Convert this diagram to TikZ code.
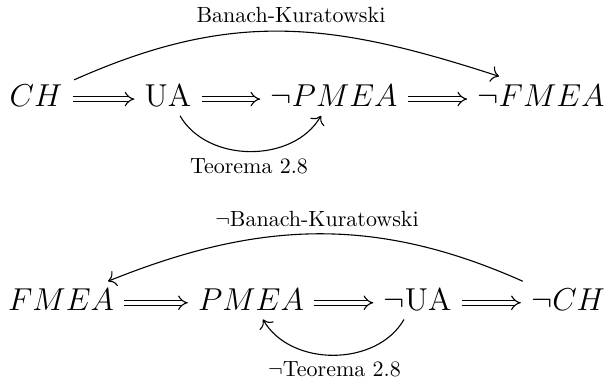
\documentclass[tikz,border=0pt]{standalone}
\usetikzlibrary{arrows.meta}
\begin{document}
\begin{tikzpicture}[x={(0.4545pt,0)}, y={(0,0.4545pt)},
  obj/.style={font=\Large, inner xsep=4.5pt, inner ysep=0pt,
              text height=11pt, text depth=3.8pt, anchor=base},
  lbl/.style={inner sep=0pt, anchor=base},
  imp/.style={double, double distance=1.8pt, line width=0.5pt, -{Implies[scale=1.1]}},
  curved/.style={line width=0.5pt, -{Computer Modern Rightarrow[scale=1.3]}}]
\useasboundingbox (0,0) rectangle (606,383);

% first chain
\node[obj] (ch)    at (36,276)  {$CH$};
\node[obj] (ua)    at (168,276) {$\mathrm{UA}$};
\node[obj] (npmea) at (334,276) {$\neg PMEA$};
\node[obj] (nfmea) at (541,276) {$\neg FMEA$};

\draw[imp] (ch) -- (ua);
\draw[imp] (ua) -- (npmea);
\draw[imp] (npmea) -- (nfmea);

\node[lbl] (bk)  at (291,360.3) {Banach-Kuratowski};
\node[lbl] (t28) at (249,209)   {Teorema 2.8};

\draw[curved] ([shift={(1.5,2.5)}]ch.north east)
  to[out=24, in=162, looseness=1.05] ([shift={(-42,6)}]nfmea.north);
\draw[curved] ([shift={(12,0)}]ua.south)
  to[out=-60, in=-120, looseness=1] ([shift={(-13,0)}]npmea.south);

% second chain
\node[obj] (fmea) at (61,72.3)    {$FMEA$};
\node[obj] (pmea) at (251,72.3)   {$PMEA$};
\node[obj] (nua)  at (417.5,72.3) {$\neg\mathrm{UA}$};
\node[obj] (nch)  at (568,72.3)   {$\neg CH$};

\draw[imp] (fmea) -- (pmea);
\draw[imp] (pmea) -- (nua);
\draw[imp] (nua) -- (nch);

\node[lbl] (nbk)  at (317,156.3) {$\neg$Banach-Kuratowski};
\node[lbl] (nt28) at (334.5,6.3) {$\neg$Teorema 2.8};

\draw[curved] ([shift={(2,4.8)}]nch.north west)
  to[out=156, in=22, looseness=1] ([shift={(47,4.8)}]fmea.north);
\draw[curved] ([shift={(-13.5,0)}]nua.south)
  to[out=-120, in=-60, looseness=1] ([shift={(12,0)}]pmea.south);
\end{tikzpicture}
\end{document}
